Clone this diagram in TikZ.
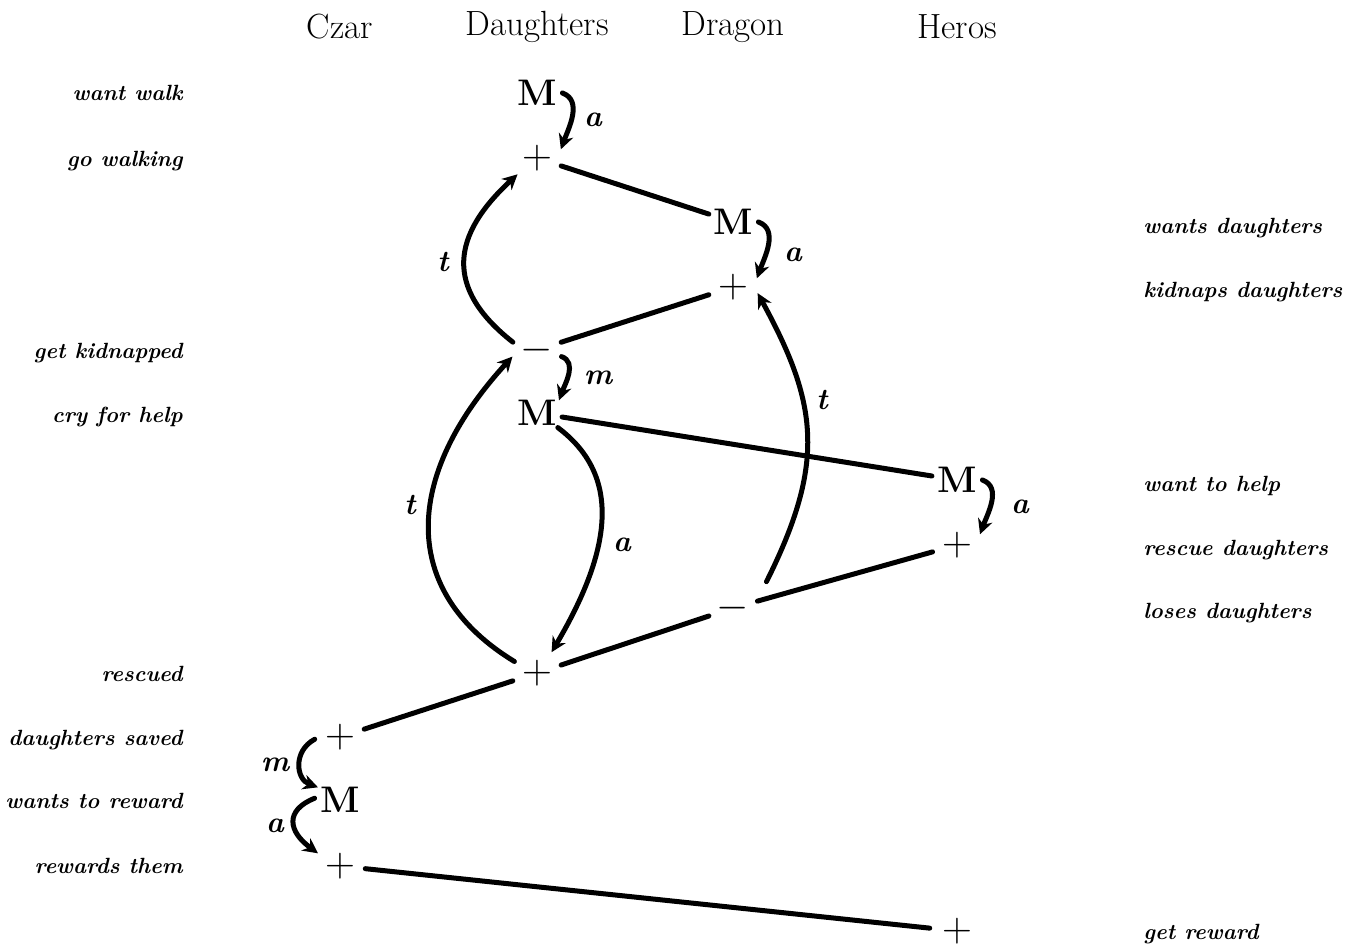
\documentclass[tikz,border=0pt]{standalone}
\usetikzlibrary{arrows.meta}
\begin{document}
\begin{tikzpicture}[x=0.5pt,y=0.5pt,
  sign/.style={circle,minimum size=25pt,inner sep=0pt,font=\fontsize{20}{20}\selectfont},
  motive/.style={sign,font=\fontsize{18.5}{18.5}\selectfont\bfseries},
  who/.style={font=\fontsize{17.5}{17.5}\selectfont},
  evl/.style={anchor=base east,inner sep=0pt,font=\fontsize{11}{12}\selectfont\bfseries\itshape},
  evr/.style={anchor=base west,inner sep=0pt,font=\fontsize{11}{12}\selectfont\bfseries\itshape},
  lnk/.style={line width=2.5pt,line cap=round},
  ar/.style={-{Stealth[length=7.5pt,width=7.5pt]},line width=2.5pt,line cap=round},
  lab/.style={font=\fontsize{15}{15}\selectfont\bfseries\itshape}]

 \useasboundingbox (0,0) rectangle (1353,-947);

 % columns
 \node[who] (czar) at (340,-27) {Czar};
 \node[who] (daug) at (537,-27) {Daughters};
 \node[who] (drag) at (733,-27) {Dragon};
 \node[who] (hero) at (957,-27) {Heros};

 % events, left side
 \node[evl] (e1) at (183,-101) {want walk};
 \node[evl] (e2) at (183,-166) {go walking};
 \node[evl] (e5) at (183,-358) {get kidnapped};
 \node[evl] (e6) at (183,-422) {cry for help};
 \node[evl] (e10) at (183,-681) {rescued};
 \node[evl] (e11) at (183,-745) {daughters saved};
 \node[evl] (e12) at (183,-808) {wants to reward};
 \node[evl] (e13) at (183,-873) {rewards them};
 % events, right side
 \node[evr] (e3) at (1143,-233) {wants daughters};
 \node[evr] (e4) at (1143,-297) {kidnaps daughters};
 \node[evr] (e7) at (1143,-491) {want to help};
 \node[evr] (e8) at (1143,-555) {rescue daughters};
 \node[evr] (e9) at (1143,-618) {loses daughters};
 \node[evr] (e14) at (1143,-939) {get reward};

 % states
 \node[motive] (M1) at (537,-93) {M};
 \node[sign] (P1) at (537,-158) {$+$};
 \node[motive] (M2) at (733,-222) {M};
 \node[sign] (P2) at (733,-287) {$+$};
 \node[sign] (N1) at (537,-350) {$-$};
 \node[motive] (M3) at (537,-413) {M};
 \node[motive] (M4) at (957,-480) {M};
 \node[sign] (P3) at (957,-545) {$+$};
 \node[sign] (N2) at (733,-608) {$-$};
 \node[sign] (P4) at (537,-673) {$+$};
 \node[sign] (P5) at (340,-737) {$+$};
 \node[motive] (M5) at (340,-800) {M};
 \node[sign] (P6) at (340,-866) {$+$};
 \node[sign,rectangle,minimum size=0pt] (P7) at (957,-931) {$+$};

 % shared events
 \draw[lnk] (P1) -- (M2);
 \draw[lnk] (N1) -- (P2);
 \draw[lnk] (M3) -- (M4);
 \draw[lnk] (P3) -- (N2);
 \draw[lnk] (N2) -- (P4);
 \draw[lnk] (P4) -- (P5);
 \draw[lnk,shorten >=6pt] (P6) -- (P7);

 % links inside a column
 \draw[ar] (M1.0) to[out=-20,in=70] (P1.20);
 \draw[ar] (M2.0) to[out=-20,in=70] (P2.20);
 \draw[ar] (N1.-15) to[out=-20,in=70] (M3.30);
 \draw[ar] (M4.0) to[out=-20,in=70] (P3.25);
 \draw[ar] (N1.162) .. controls +(-70,55) and +(-65,-60) .. (P1.220);
 \draw[ar] ([shift={(14,10)}]N2.40) .. controls +(60,120) and +(60,-110) .. (P2.-14);
 \draw[ar] (P4.153) .. controls +(-115,70) and +(-110,-120) .. (N1.195);
 \draw[ar] (M3.-35) .. controls +(60,-45) and +(65,110) .. (P4.55);
 \draw[ar] (P5.185) .. controls +(-22,-12) and +(-22,8) .. (M5.150);
 \draw[ar] (M5.176) .. controls +(-30,-12) and +(-30,22) .. (P6.150);

 % link labels
 \node[lab] (la1) at (593,-120) {a};
 \node[lab] (la2) at (793,-255) {a};
 \node[lab] (lm1) at (598,-378) {m};
 \node[lab] (la3) at (1020,-507) {a};
 \node[lab] (lt1) at (443,-262) {t};
 \node[lab] (lt2) at (822,-400) {t};
 \node[lab] (lt3) at (410,-505) {t};
 \node[lab] (la4) at (622,-545) {a};
 \node[lab] (lm2) at (275,-765) {m};
 \node[lab] (la5) at (275,-826) {a};
\end{tikzpicture}
\end{document}
